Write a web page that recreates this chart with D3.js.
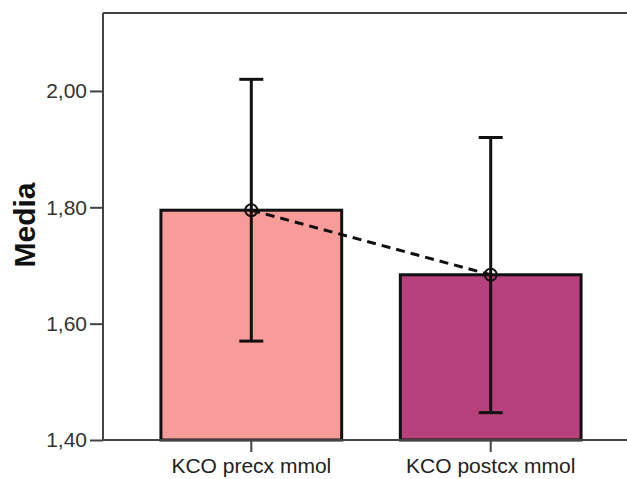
<!DOCTYPE html>
<html>
<head>
<meta charset="utf-8">
<script src="https://cdn.jsdelivr.net/npm/d3@7"></script>
<style>
  html, body { margin: 0; padding: 0; background: #fff; }
  svg { display: block; font-family: "Liberation Sans", Arial, sans-serif; }
</style>
</head>
<body>
<svg id="chart" width="627" height="479"></svg>
<script>
// Mean KCO before and after surgery, with error bars
const categories = ["KCO precx mmol", "KCO postcx mmol"];
const means = [1.795, 1.684];
const lowerBounds = [1.570, 1.447];
const upperBounds = [2.020, 1.920];
const barColors = ["#f99b99", "#b7417c"];
const yTicks = [1.40, 1.60, 1.80, 2.00];
const yLabel = "Media";

const svg = d3.select("#chart");
const plotL = 103, plotT = 13, plotB = 440, plotR = 627;

const y = d3.scaleLinear().domain([1.4, 2.134]).range([plotB, plotT]);
const x = d3.scaleBand().domain(categories)
  .range([plotL, 639]).paddingInner(0.245).paddingOuter(0.242);

const fmt = v => d3.format(".2f")(v).replace(".", ",");
const axisColor = "#444";

// frame: top rule
svg.append("line").attr("x1", plotL).attr("x2", plotR)
  .attr("y1", plotT).attr("y2", plotT)
  .attr("stroke", axisColor).attr("stroke-width", 2);

// y axis
const yAxis = svg.append("g").attr("transform", `translate(${plotL},0)`)
  .call(d3.axisLeft(y).tickValues(yTicks).tickFormat(fmt).tickSizeOuter(0).tickSize(13).tickPadding(3));
yAxis.select(".domain").attr("stroke", axisColor).attr("stroke-width", 2)
  .attr("d", `M0,${plotT}V${plotB}`);
yAxis.selectAll(".tick line").attr("stroke", axisColor).attr("stroke-width", 2);
yAxis.selectAll(".tick text").attr("fill", "#333")
  .style("font-size", "21px");

// bars
const barData = categories.map((c, i) => ({c, m: means[i], lo: lowerBounds[i], hi: upperBounds[i], col: barColors[i]}));
svg.append("g").selectAll("rect").data(barData).join("rect")
  .attr("x", d => x(d.c))
  .attr("y", d => y(d.m))
  .attr("width", x.bandwidth())
  .attr("height", d => plotB - y(d.m))
  .attr("fill", d => d.col)
  .attr("stroke", "#111").attr("stroke-width", 3);

// x axis
const xAxis = svg.append("g").attr("transform", `translate(0,${plotB})`)
  .call(d3.axisBottom(x).tickSizeOuter(0).tickSize(12).tickPadding(6));
xAxis.select(".domain").attr("stroke", axisColor).attr("stroke-width", 2)
  .attr("d", `M${plotL},0H${plotR}`);
xAxis.selectAll(".tick line").attr("stroke", axisColor).attr("stroke-width", 2);
xAxis.selectAll(".tick text").attr("fill", "#222").style("font-size", "21px");

// dashed line joining the means
const cx = d => x(d.c) + x.bandwidth() / 2;
svg.append("path").datum(barData)
  .attr("d", d3.line().x(cx).y(d => y(d.m)))
  .attr("fill", "none").attr("stroke", "#111")
  .attr("stroke-width", 3).attr("stroke-dasharray", "9,6");

// error bars
const eb = svg.append("g").selectAll("g").data(barData).join("g")
  .attr("stroke", "#111").attr("stroke-width", 3);
eb.append("line").attr("x1", cx).attr("x2", cx)
  .attr("y1", d => y(d.hi)).attr("y2", d => y(d.lo));
eb.append("line").attr("x1", d => cx(d) - 12).attr("x2", d => cx(d) + 12)
  .attr("y1", d => y(d.hi)).attr("y2", d => y(d.hi));
eb.append("line").attr("x1", d => cx(d) - 12).attr("x2", d => cx(d) + 12)
  .attr("y1", d => y(d.lo)).attr("y2", d => y(d.lo));
eb.append("circle").attr("cx", cx).attr("cy", d => y(d.m)).attr("r", 6)
  .attr("fill", "none").attr("stroke-width", 2);

// y axis title
svg.append("text")
  .attr("transform", `translate(35,225) rotate(-90)`)
  .attr("text-anchor", "middle")
  .attr("font-weight", "bold").attr("font-size", 30)
  .attr("fill", "#111")
  .text(yLabel);
</script>
</body>
</html>
